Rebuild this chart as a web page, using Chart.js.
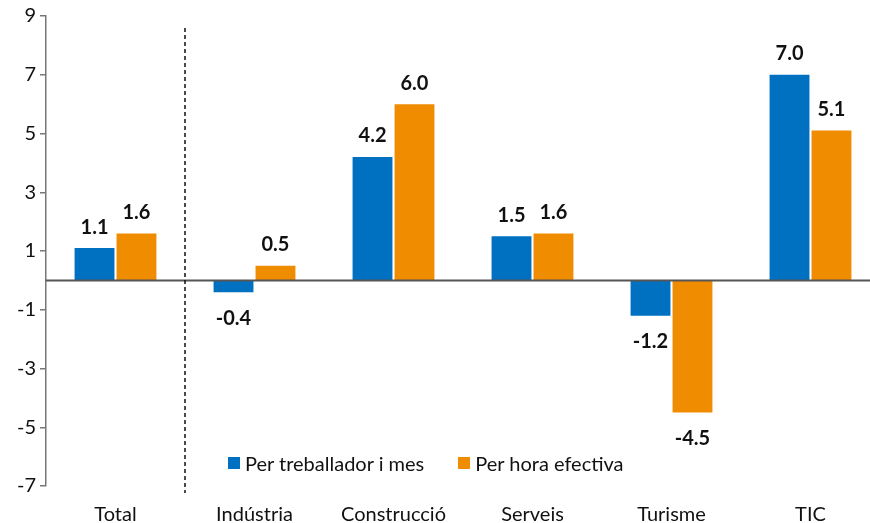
<!DOCTYPE html>
<html>
<head>
<meta charset="utf-8">
<script src="https://cdn.jsdelivr.net/npm/chart.js@4"></script>
<style>
  body { margin: 0; overflow: hidden; background: #fff; }
  #wrap { position: relative; width: 880px; height: 523px; }
  #legend { position: absolute; left: 228px; top: 451px; font: 20px Lato, sans-serif; color: #111; display: flex; white-space: nowrap; }
  #legend span.item { display: flex; align-items: center; margin-right: 34px; }
  #legend span.box { width: 12px; height: 12px; margin-right: 5px; display: inline-block; }
</style>
</head>
<body>
<div id="wrap">
  <canvas id="chart" width="880" height="523"></canvas>
  <div id="legend"></div>
</div>
<script>
const categories = ['Total', 'Indústria', 'Construcció', 'Serveis', 'Turisme', 'TIC'];
const perTreballador = [1.1, -0.4, 4.2, 1.5, -1.2, 7.0];
const perHora = [1.6, 0.5, 6.0, 1.6, -4.5, 5.1];
const seriesNames = ['Per treballador i mes', 'Per hora efectiva'];
const seriesColors = ['#0070C0', '#F08C00'];
const yTicks = [-7, -5, -3, -1, 1, 3, 5, 7, 9];

const FONT = 'Lato, sans-serif';

// etiquetes de valor, línia del zero i separador discontinu
const extras = {
  id: 'extras',
  afterDatasetsDraw(chart) {
    const ctx = chart.ctx;
    const x = chart.scales.x, y = chart.scales.y;
    const area = chart.chartArea;
    ctx.save();
    // zero
    const y0 = y.getPixelForValue(0);
    ctx.strokeStyle = '#555';
    ctx.lineWidth = 2;
    ctx.beginPath();
    ctx.moveTo(area.left, y0);
    ctx.lineTo(area.right, y0);
    ctx.stroke();
    // separador
    const xs = (x.getPixelForValue(0) + x.getPixelForValue(1)) / 2;
    ctx.strokeStyle = '#111';
    ctx.lineWidth = 1.5;
    ctx.setLineDash([4, 3]);
    ctx.beginPath();
    ctx.moveTo(xs, area.top + 12);
    ctx.lineTo(xs, area.bottom + 7);
    ctx.stroke();
    ctx.setLineDash([]);
    // valors
    ctx.fillStyle = '#111';
    ctx.font = 'bold 20px ' + FONT;
    ctx.textAlign = 'center';
    ctx.textBaseline = 'middle';
    chart.data.datasets.forEach((ds, i) => {
      chart.getDatasetMeta(i).data.forEach((bar, j) => {
        const v = ds.data[j];
        const ty = v >= 0 ? bar.y - 21 : bar.y + 26;
        ctx.fillText(v.toFixed(1), bar.x, ty);
      });
    });
    ctx.restore();
  }
};

const chart = new Chart(document.getElementById('chart'), {
  type: 'bar',
  data: {
    labels: categories,
    datasets: [
      { label: seriesNames[0], data: perTreballador, backgroundColor: seriesColors[0] },
      { label: seriesNames[1], data: perHora, backgroundColor: seriesColors[1] }
    ]
  },
  options: {
    responsive: false,
    animation: false,
    categoryPercentage: 0.604,
    barPercentage: 0.95,
    layout: { padding: { top: 16, right: 0, left: 0, bottom: 0 } },
    plugins: { legend: { display: false }, tooltip: { enabled: false } },
    scales: {
      x: {
        grid: { display: false, drawTicks: false },
        border: { display: false },
        ticks: { color: '#111', font: { family: FONT, size: 20 }, padding: 17, maxRotation: 0 },
        afterFit(s) { s.height = 37; }
      },
      y: {
        min: -7,
        max: 9,
        afterBuildTicks(s) { s.ticks = yTicks.map(v => ({ value: v })); },
        grid: { drawOnChartArea: false, drawTicks: true, tickLength: 6, color: '#777', lineWidth: 1.5 },
        border: { display: true, color: '#777', width: 1.5 },
        ticks: { color: '#111', font: { family: FONT, size: 20 }, padding: 4 },
        afterFit(s) { s.width = 46; }
      }
    }
  },
  plugins: [extras]
});

const legend = document.getElementById('legend');
chart.data.datasets.forEach(ds => {
  const item = document.createElement('span');
  item.className = 'item';
  item.innerHTML = `<span class="box" style="background:${ds.backgroundColor}"></span>${ds.label}`;
  legend.appendChild(item);
});
</script>
</body>
</html>
